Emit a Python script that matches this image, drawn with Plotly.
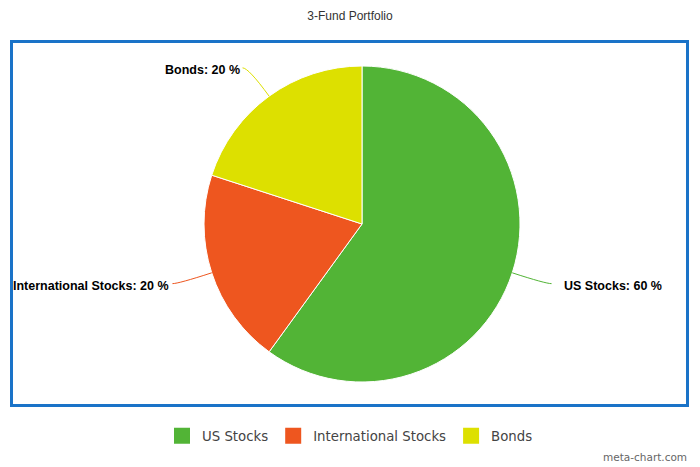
import math
import plotly.graph_objects as go

categories = ["US Stocks", "International Stocks", "Bonds"]
values = [60, 20, 20]
colors = ["#52b436", "#ee561f", "#dde000"]
title_text = "3-Fund Portfolio"

W, H = 700, 467
cx, cy, r = 362, 224, 158

def px(x):
    return x / W

def py(y):
    return 1 - y / H

fig = go.Figure(go.Pie(
    labels=categories, values=values, sort=False, direction="clockwise",
    rotation=0, marker=dict(colors=colors, line=dict(color="white", width=1)),
    textinfo="none", hoverinfo="label+percent", showlegend=False,
    domain=dict(x=[px(cx - r), px(cx + r)], y=[py(cy + r), py(cy - r)]),
))

# legend entries with larger square swatches
for lab, col in zip(categories, colors):
    fig.add_trace(go.Scatter(
        x=[None], y=[None], mode="markers", name=lab, hoverinfo="skip",
        marker=dict(symbol="square", size=16, color=col,
                    line=dict(color=col, width=0))))

shapes = [dict(type="rect", xref="paper", yref="paper",
               x0=px(11.5), x1=px(687.5), y0=py(405.5), y1=py(41.5),
               line=dict(color="#1a73c8", width=3), layer="below")]
annotations = []
total = sum(values)
cum = 0
for lab, v, col in zip(categories, values, colors):
    mid = (cum + v / 2) / total * 2 * math.pi
    cum += v
    dx, dy = math.sin(mid), -math.cos(mid)
    x1, y1 = cx + r * dx, cy + r * dy
    x2, y2 = cx + (r + 35) * dx, cy + (r + 35) * dy
    side = 1 if dx >= 0 else -1
    x3, y3 = x2 + 6 * side, y2
    path = (f"M {px(x1)} {py(y1)} Q {px(x2)} {py(y2)} {px(x3)} {py(y3)}")
    shapes.append(dict(type="path", xref="paper", yref="paper", path=path,
                       line=dict(color=col, width=1)))
    pct = round(v / total * 100)
    gap = 10 if side > 0 else 1
    annotations.append(dict(
        x=px(x3 + gap * side), y=py(y3 + 2), xref="paper", yref="paper",
        text=f"<b>{lab}: {pct} %</b>", showarrow=False,
        xanchor="left" if side > 0 else "right", yanchor="middle",
        font=dict(family="Liberation Sans, Arial", size=12.5, color="#000000")))

annotations.append(dict(x=px(689), y=py(457), xref="paper", yref="paper",
                        text="meta-chart.com", showarrow=False,
                        xanchor="right", yanchor="middle",
                        font=dict(family="DejaVu Sans", size=10.5, color="#666666")))

fig.update_layout(
    width=W, height=H, margin=dict(l=0, r=0, t=0, b=0),
    paper_bgcolor="white", plot_bgcolor="white",
    xaxis=dict(visible=False), yaxis=dict(visible=False),
    title=dict(text=title_text, x=0.5, xanchor="center", y=py(16), yanchor="middle",
               font=dict(family="Liberation Sans, Arial", size=12, color="#333333")),
    showlegend=True,
    legend=dict(orientation="h", x=0.5, xanchor="center", y=py(436), yanchor="middle",
                font=dict(family="DejaVu Sans", size=13.3, color="#444444"),
                itemwidth=30, itemsizing="trace"),
    shapes=shapes, annotations=annotations,
)

fig.write_html("out.html", config={"displayModeBar": False},
               post_script="document.body.style.margin='0px';")
